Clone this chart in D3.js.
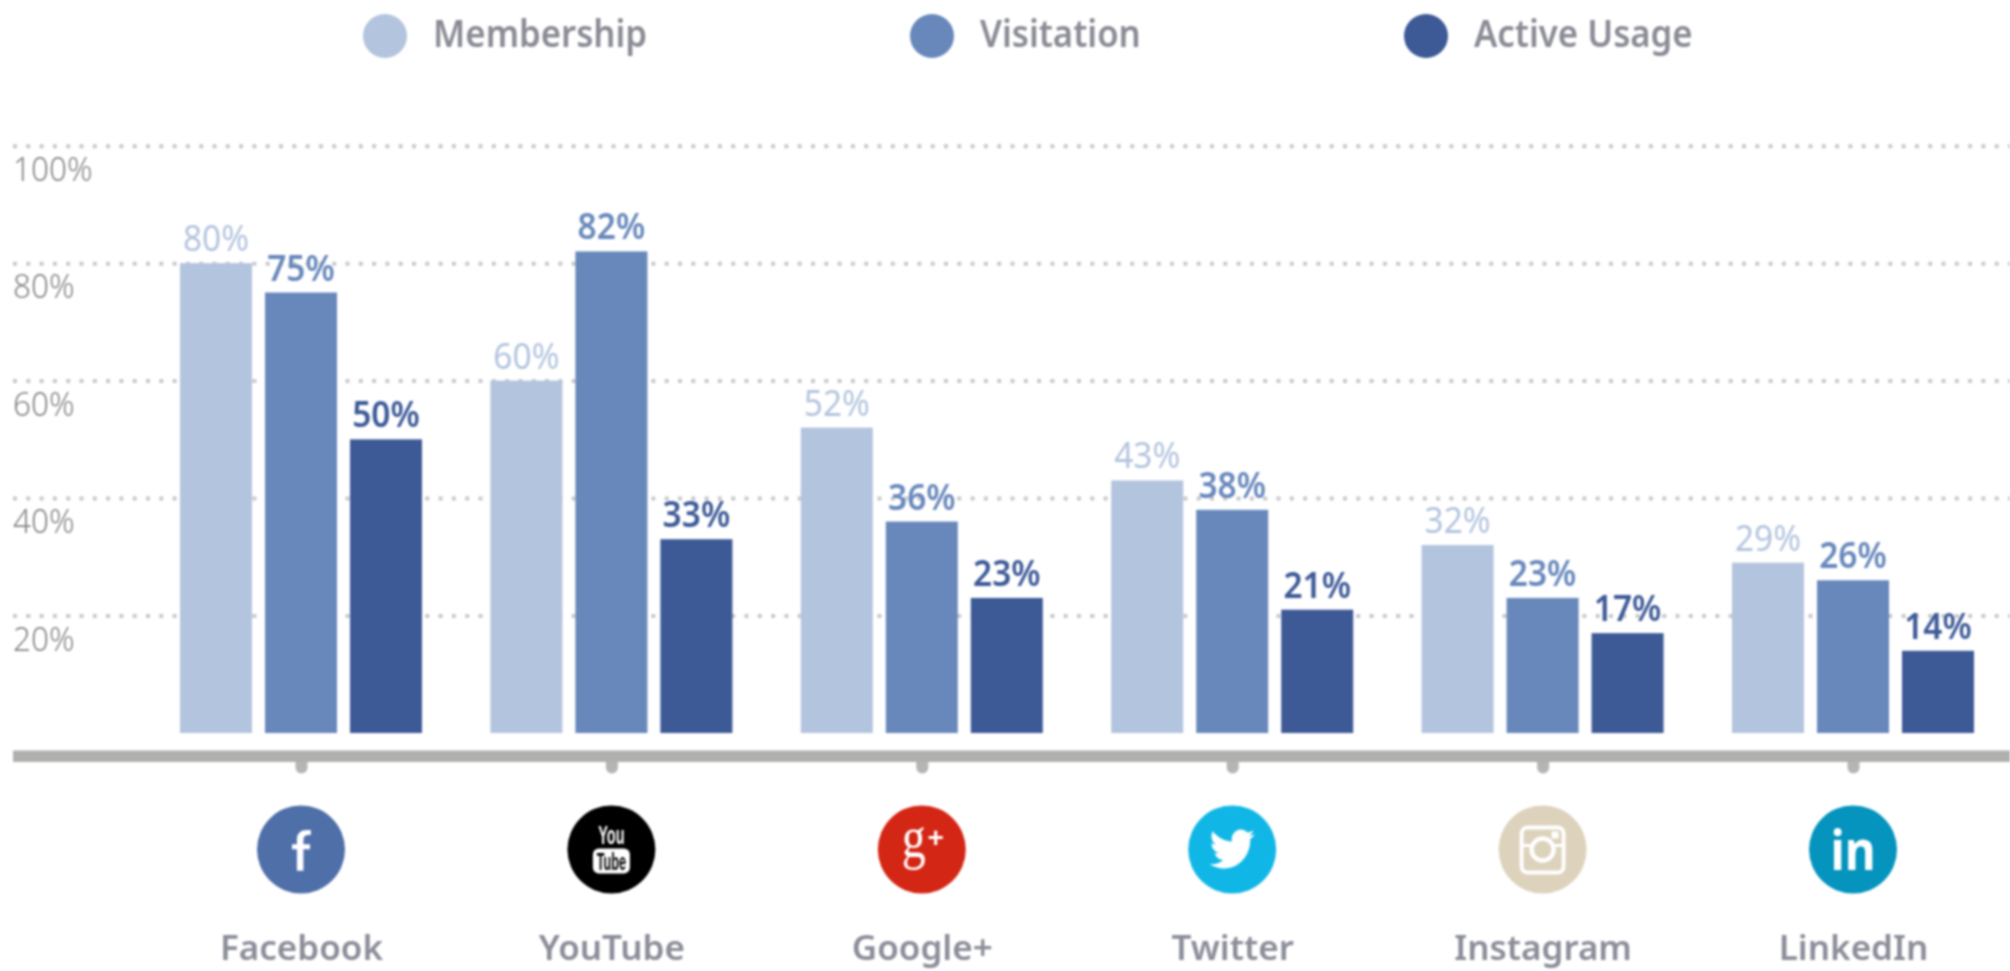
<!DOCTYPE html>
<html><head><meta charset="utf-8">
<script src="https://cdn.jsdelivr.net/npm/d3@7/dist/d3.min.js"></script>
<style>
html,body{margin:0;padding:0;background:#fff;overflow:hidden}
svg{display:block;filter:blur(0.9px)}
text{font-family:"Noto Sans",Lato,sans-serif}
</style></head><body>
<svg id="c" width="2010" height="971"></svg>
<script>
const categories=["Facebook","YouTube","Google+","Twitter","Instagram","LinkedIn"];
const seriesNames=["Membership","Visitation","Active Usage"];
const membership=[80,60,52,43,32,29];
const visitation=[75,82,36,38,23,26];
const activeUsage=[50,33,23,21,17,14];
const yTicks=[20,40,60,80,100];
const seriesColors=["#b3c4de","#6888bc","#3d5a97"];
const labelWeights=[400,600,600];
const iconColors=["#4f6fa9","#000000","#d42615","#10b7e6","#ddd2bc","#0494bd"];
const legendCircleX=[385,932,1426];

const svg=d3.select("#c");
const series=[membership,visitation,activeUsage];
const y=d3.scaleLinear().domain([0,100]).range([733,145.7]);
const x=d3.scalePoint().domain(categories).range([301,1853]);
const inner=d3.scaleBand().domain(d3.range(3)).range([-121,121]).paddingInner(13/85);

function squeeze(sel,k){
  sel.each(function(){
    const t=d3.select(this),X=+t.attr("x")||0,Y=+t.attr("y")||0;
    t.attr("transform",`translate(${X},${Y}) scale(${k},1)`).attr("x",0).attr("y",0);
  });
}

// grid + y labels
const gridAxis=d3.axisRight(y).tickValues(yTicks.concat()).tickSize(1997).tickFormat(d=>d+"%");
const gy=svg.append("g").attr("transform","translate(13,0)").call(gridAxis);
gy.select(".domain").remove();
gy.selectAll(".tick line").attr("stroke","#c9c9c9").attr("stroke-width",4).attr("stroke-dasharray","4 9.3");
gy.selectAll(".tick text")
  .attr("x",0).attr("dy",0).attr("y",34.5)
  .attr("text-anchor","start").attr("fill","#858585")
  .style("font-size","33px").style("font-weight",300)
  .attr("transform","scale(0.955,1)");

// bars
const groups=svg.selectAll("g.grp").data(categories).join("g").attr("class","grp")
  .attr("transform",d=>`translate(${x(d)},0)`);
groups.each(function(c,i){
  const g=d3.select(this);
  series.forEach((s,j)=>{
    g.append("rect").attr("x",inner(j)).attr("width",inner.bandwidth())
      .attr("y",y(s[i])).attr("height",y(0)-y(s[i])).attr("fill",seriesColors[j]);
    const t=g.append("text").attr("x",inner(j)+inner.bandwidth()/2).attr("y",y(s[i])-12)
      .attr("text-anchor","middle").attr("fill",seriesColors[j])
      .style("font-size","36px").style("font-weight",labelWeights[j]).text(s[i]+"%");
    squeeze(t,0.93);
  });
});

// baseline and ticks
const xAxis=d3.axisBottom(x).tickSize(0).tickPadding(0).tickFormat(d=>d);
const ax=svg.append("g").attr("transform","translate(0,756)").call(xAxis);
ax.select(".domain").remove();
svg.append("rect").attr("x",13).attr("y",750.5).attr("width",1997).attr("height",11.5).attr("fill","#b0b0ae");
ax.selectAll(".tick").append("line").attr("y1",4).attr("y2",11.5)
  .attr("stroke","#b5b5b3").attr("stroke-width",12).attr("stroke-linecap","round");
ax.selectAll(".tick text").attr("y",203.5).attr("dy",0)
  .attr("fill","#8b8d99").style("font-size","35px").style("font-weight",600)
  .attr("transform","scale(1,1)");

// icons
const icons=svg.selectAll("g.icon").data(categories).join("g").attr("class","icon")
  .attr("transform",d=>`translate(${x(d)},849.5)`);
icons.append("circle").attr("r",44).attr("fill",(d,i)=>iconColors[i]);
const W="#fff";
const ic=n=>icons.filter(d=>d===n);
ic("Facebook").append("path").attr("fill",W)
  .attr("d","M3 28V2H11V-4H3V-9C3-13 5-15 9-15H12V-21H7C0-21-5-17-5-10V-4H-11V2H-5V28Z").attr("transform","translate(0,-2) scale(0.82,0.83)");
const yt=ic("YouTube");
yt.append("text").attr("text-anchor","middle").attr("y",-6).attr("fill",W)
  .style("font-family","'Liberation Sans'").style("font-weight",700).style("font-size","25px")
  .attr("transform","scale(0.58,1)").text("You");
yt.append("rect").attr("x",-18.5).attr("y",-1).attr("width",37).attr("height",25).attr("rx",6).attr("fill",W);
yt.append("text").attr("text-anchor","middle").attr("y",20).attr("fill","#000")
  .style("font-family","'Liberation Sans'").style("font-weight",700).style("font-size","23px")
  .attr("transform","scale(0.55,1)").text("Tube");
ic("Google+").append("text").attr("text-anchor","middle").attr("transform","translate(-8,7) scale(0.8,1)").attr("fill",W)
  .style("font-family","'Liberation Serif'").style("font-size","60px").text("g");
ic("Google+").append("text").attr("text-anchor","middle").attr("x",14).attr("y",-3).attr("fill",W)
  .style("font-family","'Liberation Sans'").style("font-weight",700).style("font-size","28px").text("+");
ic("Twitter").append("path").attr("fill",W)
  .attr("transform","translate(-22.5,-24.5) scale(1.88,2)")
  .attr("d","M23.953 4.57a10 10 0 01-2.825.775 4.958 4.958 0 002.163-2.723c-.951.555-2.005.959-3.127 1.184a4.92 4.92 0 00-8.384 4.482C7.69 8.095 4.067 6.13 1.64 3.162a4.822 4.822 0 00-.666 2.475c0 1.71.87 3.213 2.188 4.096a4.904 4.904 0 01-2.228-.616v.06a4.923 4.923 0 003.946 4.827 4.996 4.996 0 01-2.212.085 4.936 4.936 0 004.604 3.417 9.867 9.867 0 01-6.102 2.105c-.39 0-.779-.023-1.17-.067a13.995 13.995 0 007.557 2.209c9.053 0 13.998-7.496 13.998-13.985 0-.21 0-.42-.015-.63A9.935 9.935 0 0024 4.59z");
const ig=ic("Instagram");
ig.append("rect").attr("x",-21).attr("y",-22).attr("width",42).attr("height",45).attr("rx",6).attr("fill","none").attr("stroke",W).attr("stroke-width",4);
ig.append("path").attr("d","M-21 -4H-11M11 -4H21").attr("stroke",W).attr("stroke-width",3);
ig.append("circle").attr("r",11).attr("cy",0).attr("fill","none").attr("stroke",W).attr("stroke-width",4.5);
ig.append("rect").attr("x",9).attr("y",-18).attr("width",7).attr("height",7).attr("fill",W);
const li=ic("LinkedIn");
li.append("text").attr("text-anchor","middle").attr("y",20).attr("fill",W)
  .style("font-family","'Noto Sans'").style("font-weight",700).style("font-size","56px")
  .attr("transform","scale(0.85,1)").text("in");

// legend
const leg=svg.selectAll("g.leg").data(seriesNames).join("g").attr("class","leg")
  .attr("transform",(d,i)=>`translate(${legendCircleX[i]},36)`);
leg.append("circle").attr("r",22).attr("fill",(d,i)=>seriesColors[i]);
leg.append("text").attr("transform","translate(48,11) scale(0.94,1)")
  .attr("fill","#8a8b95").style("font-size","37px").style("font-weight",600).text(d=>d);
</script>
</body></html>
